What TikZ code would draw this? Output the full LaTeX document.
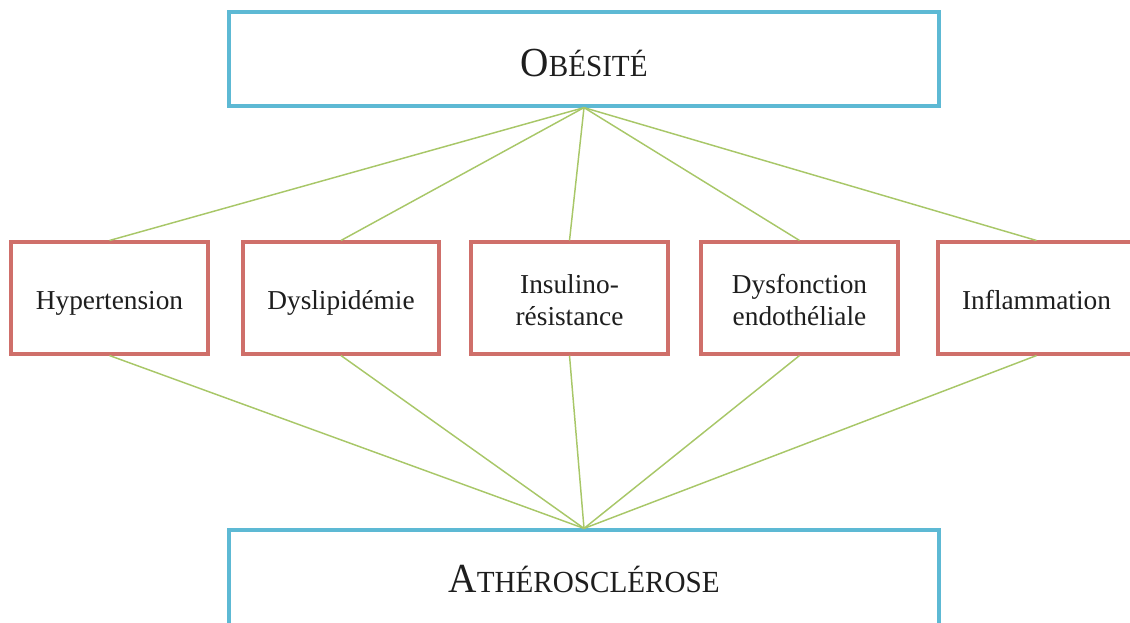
\documentclass[tikz,border=0pt]{standalone}
\usepackage{fontspec}
\setmainfont{Liberation Serif}
\definecolor{boxblue}{HTML}{5DB9D4}
\definecolor{boxred}{HTML}{CF6F6A}
\definecolor{linkgreen}{HTML}{A8C768}
\definecolor{txt}{HTML}{1E1E1E}
\newcommand\fakesc[2]{\scalebox{0.95}[1]{{\fontsize{31}{31}\selectfont #1}{\fontsize{23}{23}\selectfont #2}}}
\newcommand\lbl[1]{\raisebox{-4pt}[\height][\depth]{\begin{tabular}{@{}c@{}}#1\end{tabular}}}
\begin{document}
\begin{tikzpicture}[x=0.75pt,y=-0.75pt,
  mainbox/.style={draw=boxblue,line width=2.4pt,fill=white,minimum width=532.5pt,inner sep=0pt,text=txt},
  factor/.style={draw=boxred,line width=2.3pt,fill=white,minimum height=84pt,minimum width=147.75pt,inner sep=0pt,align=center,text=txt,font=\fontsize{20.5}{24}\selectfont},
  link/.style={draw=linkgreen,line width=1.1pt}]
\useasboundingbox (0,0) rectangle (1130,622);
\node[mainbox,minimum height=70.5pt] (ob) at (584,59) {\raisebox{-3pt}[\height][\depth]{\fakesc{O}{BÉSITÉ}}};
\node[mainbox,minimum height=72pt] (ath) at (584,578) {\raisebox{-1pt}[\height][\depth]{\fakesc{A}{THÉROSCLÉROSE}}};
\node[factor] (m1) at (109.5,298) {\lbl{Hypertension}};
\node[factor,minimum width=147pt] (m2) at (341,298) {\lbl{Dyslipidémie}};
\node[factor] (m3) at (569.5,298) {\lbl{Insulino-\\résistance}};
\node[factor] (m4) at (799.5,298) {\lbl{Dysfonction\\endothéliale}};
\node[factor] (m5) at (1036.5,298) {\lbl{Inflammation}};
\foreach \m in {m1,m2,m3,m4,m5}{
  \draw[link] (ob.south) -- (\m.north);
  \draw[link] (\m.south) -- (ath.north);
}
\end{tikzpicture}
\end{document}
